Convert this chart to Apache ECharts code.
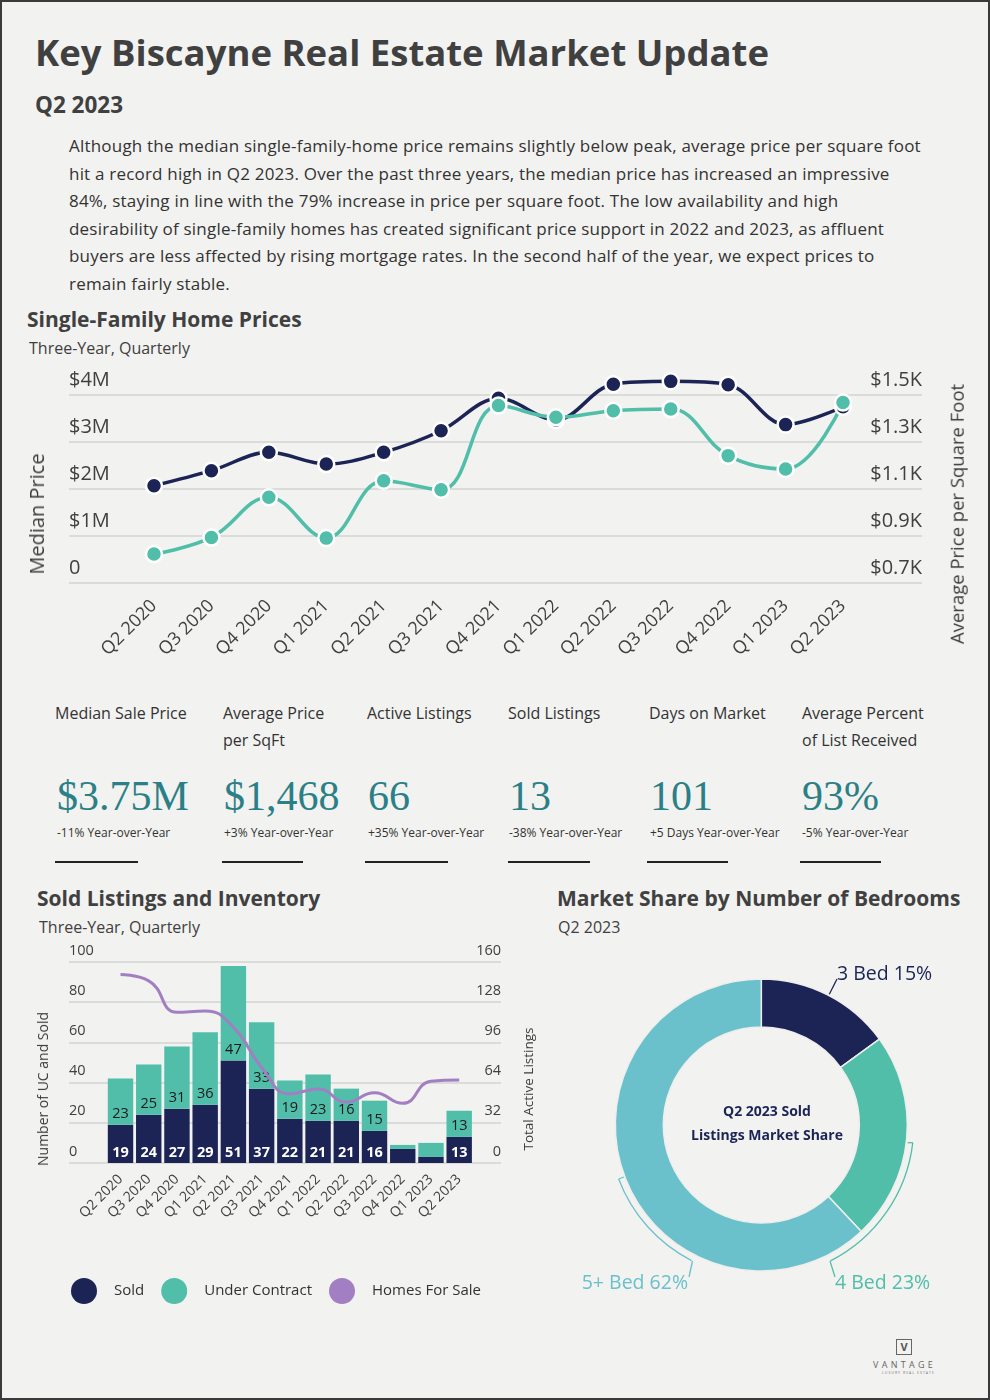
<!DOCTYPE html>
<html><head><meta charset="utf-8">
<script src="https://cdn.jsdelivr.net/npm/echarts@6/dist/echarts.min.js"></script>
<style>
html,body{margin:0;padding:0;background:#f2f2f0;}
#page{position:relative;width:990px;height:1400px;box-sizing:border-box;border:2px solid #3a3a3a;background:#f2f2f0;overflow:hidden;font-family:'Open Sans',Lato,sans-serif;color:#3d3d3d;}
.t{position:absolute;white-space:nowrap;line-height:1;}
.h1{font-size:36.5px;font-weight:bold;color:#404040;}
.h2{font-size:22.5px;font-weight:bold;color:#404040;}
.h3{font-size:21px;font-weight:bold;color:#404040;}
.sub{font-size:16px;color:#404040;}
.para{position:absolute;left:67px;top:130px;font-size:17px;letter-spacing:0.2px;line-height:27.6px;color:#333;white-space:nowrap;}
.sl{position:absolute;font-size:16px;line-height:27px;color:#333;white-space:nowrap;}
.sv{position:absolute;font-family:'Liberation Serif','DejaVu Serif',serif;font-size:42px;line-height:1;color:#2b7f86;white-space:nowrap;}
.sy{position:absolute;font-size:12px;line-height:1;color:#333;white-space:nowrap;}
.ul{position:absolute;top:859px;height:2px;background:#222;}
.rot{position:absolute;white-space:nowrap;line-height:1;transform-origin:center center;transform:translate(-50%,-50%) rotate(-90deg);color:#3d3d3d;}
.chart{position:absolute;}
</style></head>
<body>
<div id="page">
  <div class="t h1" style="left:33px;top:32px;">Key Biscayne Real Estate Market Update</div>
  <div class="t h2" style="left:33px;top:92px;">Q2 2023</div>
  <div class="para">Although the median single-family-home price remains slightly below peak, average price per square foot<br>hit a record high in Q2 2023. Over the past three years, the median price has increased an impressive<br>84%, staying in line with the 79% increase in price per square foot. The low availability and high<br>desirability of single-family homes has created significant price support in 2022 and 2023, as affluent<br>buyers are less affected by rising mortgage rates. In the second half of the year, we expect prices to<br>remain fairly stable.</div>
  <div class="t h3" style="left:25px;top:307px;">Single-Family Home Prices</div>
  <div class="t sub" style="left:27px;top:338px;">Three-Year, Quarterly</div>

  <div id="c1" class="chart" style="left:0;top:360px;width:990px;height:330px;"></div>
  <div class="rot" style="left:35px;top:512px;font-size:20px;">Median Price</div>
  <div class="rot" style="left:955px;top:512px;font-size:18.5px;">Average Price per Square Foot</div>

  <div id="stats"></div>

  <div class="t h3" style="left:35px;top:886px;">Sold Listings and Inventory</div>
  <div class="t sub" style="left:37px;top:917px;">Three-Year, Quarterly</div>
  <div id="c2" class="chart" style="left:0;top:930px;width:540px;height:390px;"></div>
  <div class="rot" style="left:41px;top:1087px;font-size:14px;">Number of UC and Sold</div>
  <div class="rot" style="left:527px;top:1087px;font-size:13.5px;">Total Active Listings</div>

  <div class="t h3" style="left:555px;top:886px;">Market Share by Number of Bedrooms</div>
  <div class="t sub" style="left:556px;top:917px;">Q2 2023</div>
  <div id="c3" class="chart" style="left:540px;top:870px;width:450px;height:450px;"></div>

  <div style="position:absolute;left:894px;top:1337px;width:14px;height:14px;border:1.5px solid #666;font-size:11px;font-weight:bold;color:#555;text-align:center;line-height:14px;">V</div>
  <div class="t" style="left:871px;top:1358px;font-size:9px;letter-spacing:3.3px;color:#666;">VANTAGE</div>
  <div class="t" style="left:880px;top:1369px;font-size:3.5px;letter-spacing:1px;color:#777;">LUXURY REAL ESTATE</div>
</div>
<script>
// ---------- DATA ----------
var quarters = ['Q2 2020','Q3 2020','Q4 2020','Q1 2021','Q2 2021','Q3 2021','Q4 2021','Q1 2022','Q2 2022','Q3 2022','Q4 2022','Q1 2023','Q2 2023'];
var medianPrice = [2070000,2390000,2780000,2530000,2780000,3240000,3930000,3470000,4230000,4290000,4220000,3370000,3750000];
var pricePerSqft = [823,894,1065,891,1135,1097,1455,1405,1433,1440,1242,1185,1468];
var leftPriceTicks = {min:0, max:4000000, interval:1000000};
var rightPriceTicks = {min:700, max:1500, interval:200};

var statLabels = ['Median Sale Price','Average Price<br>per SqFt','Active Listings','Sold Listings','Days on Market','Average Percent<br>of List Received'];
var statValues = ['$3.75M','$1,468','66','13','101','93%'];
var statChanges = ['-11% Year-over-Year','+3% Year-over-Year','+35% Year-over-Year','-38% Year-over-Year','+5 Days Year-over-Year','-5% Year-over-Year'];

var soldCounts = [19,24,27,29,51,37,22,21,21,16,7,3,13];
var underContract = [23,25,31,36,47,33,19,23,16,15,2,7,13];
var homesForSale = [150,145,120,121,108,76,55,59,48.5,56,47.5,65,66];

var bedNames = ['3 Bed','4 Bed','5+ Bed'];
var bedShares = [15,23,62];

// ---------- COLOURS ----------
var NAVY='#1c2456', TEAL='#50bea9', LBLUE='#6ac1cb', PURPLE='#a27fc2', TXT='#404040';
var FONT='Open Sans';

// ---------- STATS (HTML text) ----------
(function(){
  var lx=[53,221,365,506,647,800], vx=[55,222,366,507,648,800], ux=[53,220,363,506,645,798], uw=[83,81,83,82,81,81];
  var h='';
  for(var i=0;i<statLabels.length;i++){
    h+='<div class="sl" style="left:'+lx[i]+'px;top:698px;">'+statLabels[i]+'</div>';
    h+='<div class="sv" style="left:'+vx[i]+'px;top:772.5px;">'+statValues[i]+'</div>';
    h+='<div class="sy" style="left:'+vx[i]+'px;top:825px;">'+statChanges[i]+'</div>';
    h+='<div class="ul" style="left:'+ux[i]+'px;width:'+uw[i]+'px;"></div>';
  }
  document.getElementById('stats').innerHTML=h;
})();

// ---------- CHART 1: prices ----------
var c1 = echarts.init(document.getElementById('c1'));
c1.setOption({
  animation:false,
  grid:[{left:67,right:70,top:33,height:188},{left:152,right:149,top:33,height:188}],
  xAxis:[
    {gridIndex:0,type:'category',data:quarters,show:false},
    {gridIndex:1,type:'category',data:quarters,boundaryGap:false,axisLine:{show:false},axisTick:{show:false},
     axisLabel:{rotate:45,margin:20,fontSize:18,color:TXT,fontFamily:FONT,interval:0}}
  ],
  yAxis:[
    {gridIndex:0,type:'value',min:leftPriceTicks.min,max:leftPriceTicks.max,interval:leftPriceTicks.interval,
     axisLine:{show:false},axisTick:{show:false},splitLine:{lineStyle:{color:'#d3d3d3',width:1.5}},
     axisLabel:{inside:true,margin:0,align:'left',verticalAlign:'bottom',padding:[0,0,5,0],fontSize:20,color:TXT,fontFamily:FONT,
       formatter:function(v){return v===0?'0':'$'+(v/1000000)+'M';}}},
    {gridIndex:0,type:'value',position:'right',min:rightPriceTicks.min,max:rightPriceTicks.max,interval:rightPriceTicks.interval,
     axisLine:{show:false},axisTick:{show:false},splitLine:{show:false},
     axisLabel:{inside:true,margin:0,align:'right',verticalAlign:'bottom',padding:[0,0,5,0],fontSize:20,color:TXT,fontFamily:FONT,
       formatter:function(v){return '$'+(v/1000).toFixed(1)+'K';}}},
    {gridIndex:1,type:'value',min:leftPriceTicks.min,max:leftPriceTicks.max,show:false},
    {gridIndex:1,type:'value',min:rightPriceTicks.min,max:rightPriceTicks.max,show:false}
  ],
  series:[
    {type:'line',name:'Median Price',xAxisIndex:1,yAxisIndex:2,data:medianPrice,smooth:0.35,clip:false,
     symbol:'circle',symbolSize:16,lineStyle:{color:NAVY,width:3.5},itemStyle:{color:NAVY,borderColor:'#fff',borderWidth:2.5}},
    {type:'line',name:'Price per SqFt',xAxisIndex:1,yAxisIndex:3,data:pricePerSqft,smooth:0.4,clip:false,
     symbol:'circle',symbolSize:16,lineStyle:{color:TEAL,width:3.5},itemStyle:{color:TEAL,borderColor:'#fff',borderWidth:2.5}}
  ]
});

// ---------- CHART 2: sold & inventory ----------
var c2 = echarts.init(document.getElementById('c2'));
function barLabel(color, weight){
  return {show:true,position:'insideBottom',distance:3,fontSize:14.5,fontWeight:weight,color:color,fontFamily:FONT,
    formatter:function(p){return p.value>=10?String(p.value):'';}};
}
c2.setOption({
  animation:false,
  grid:[{left:67,right:41,top:30,height:201},{left:104.4,right:68.7,top:30,height:201}],
  legend:{left:64,top:341,itemWidth:26,itemHeight:26,itemGap:17,icon:'circle',
    formatter:function(n){return '{a|'+n+'}';},
    textStyle:{rich:{a:{padding:[0,0,0,12],fontSize:15,color:'#333',fontFamily:FONT}}},
    data:[{name:'Sold',itemStyle:{color:NAVY}},{name:'Under Contract',itemStyle:{color:TEAL}},{name:'Homes For Sale',itemStyle:{color:PURPLE}}]
  },
  xAxis:[
    {gridIndex:0,type:'category',data:quarters,show:false},
    {gridIndex:1,type:'category',data:quarters,axisLine:{show:false},axisTick:{show:false},
     axisLabel:{rotate:45,margin:14,fontSize:14,color:TXT,fontFamily:FONT,interval:0}}
  ],
  yAxis:[
    {gridIndex:0,type:'value',min:0,max:100,interval:20,axisLine:{show:false},axisTick:{show:false},
     splitLine:{lineStyle:{color:'#d3d3d3',width:1.5}},
     axisLabel:{inside:true,margin:0,align:'left',verticalAlign:'bottom',padding:[0,0,4,0],fontSize:14.5,color:TXT,fontFamily:FONT}},
    {gridIndex:0,type:'value',position:'right',min:0,max:160,interval:32,axisLine:{show:false},axisTick:{show:false},splitLine:{show:false},
     axisLabel:{inside:true,margin:0,align:'right',verticalAlign:'bottom',padding:[0,0,4,0],fontSize:14.5,color:TXT,fontFamily:FONT}},
    {gridIndex:1,type:'value',min:0,max:100,show:false},
    {gridIndex:1,type:'value',min:0,max:160,show:false}
  ],
  series:[
    {type:'bar',name:'Sold',stack:'s',xAxisIndex:1,yAxisIndex:2,data:soldCounts,barWidth:'90%',
     itemStyle:{color:NAVY},label:barLabel('#ffffff','bold')},
    {type:'bar',name:'Under Contract',stack:'s',xAxisIndex:1,yAxisIndex:2,data:underContract,barWidth:'90%',
     itemStyle:{color:TEAL},label:barLabel('#1a1a1a','normal')},
    {type:'line',name:'Homes For Sale',xAxisIndex:1,yAxisIndex:3,data:homesForSale,smooth:0.5,symbol:'none',z:5,
     lineStyle:{color:PURPLE,width:3},itemStyle:{color:PURPLE}}
  ]
});

// ---------- CHART 3: donut ----------
var c3 = echarts.init(document.getElementById('c3'));
var CX=219.3, CY=253, R1=98, R2=146, RB=152.5;
var bedColors=[NAVY,TEAL,LBLUE];
var lbl = function(i){return bedNames[i]+' '+bedShares[i]+'%';};
c3.setOption({
  animation:false,
  series:[{type:'pie',center:[CX,CY],radius:[R1,R2],startAngle:90,clockwise:true,silent:true,
    label:{show:false},labelLine:{show:false},
    itemStyle:{borderColor:'#eeeeec',borderWidth:1.5},
    data:bedNames.map(function(n,i){return {name:n,value:bedShares[i],itemStyle:{color:bedColors[i]}};})
  }],
  graphic:[
    {type:'text',left:'center',top:CY-25,style:{text:'Q2 2023 Sold\nListings Market Share',font:'bold 14px "Open Sans"',fill:NAVY,textAlign:'center',lineHeight:24}},
    // 3 Bed
    {type:'line',shape:{x1:287.3,y1:122.3,x2:295,y2:107},style:{stroke:NAVY,lineWidth:1.3}},
    {type:'text',x:295,y:102.5,style:{text:lbl(0),font:'19.5px "Open Sans"',fill:NAVY,textVerticalAlign:'middle'}},
    // 4 Bed
    {type:'line',shape:{x1:365.7,y1:270.7,x2:371,y2:270.7},style:{stroke:TEAL,lineWidth:1.3}},
    {type:'arc',shape:{cx:CX,cy:CY,r:RB,startAngle:0.117,endAngle:1.1,clockwise:true},style:{stroke:TEAL,fill:null,lineWidth:1.3}},
    {type:'line',shape:{x1:288,y1:389,x2:293,y2:405},style:{stroke:TEAL,lineWidth:1.3}},
    {type:'text',x:293,y:411.5,style:{text:lbl(1),font:'19.5px "Open Sans"',fill:TEAL,textVerticalAlign:'middle'}},
    // 5+ Bed
    {type:'line',shape:{x1:76.7,y1:307,x2:82,y2:305},style:{stroke:LBLUE,lineWidth:1.3}},
    {type:'arc',shape:{cx:CX,cy:CY,r:RB,startAngle:2.046,endAngle:2.78,clockwise:true},style:{stroke:LBLUE,fill:null,lineWidth:1.3}},
    {type:'line',shape:{x1:150.5,y1:389,x2:147,y2:405},style:{stroke:LBLUE,lineWidth:1.3}},
    {type:'text',x:146,y:411.5,style:{text:lbl(2),font:'19.5px "Open Sans"',fill:LBLUE,textAlign:'right',textVerticalAlign:'middle'}}
  ]
});
</script>
</body></html>
